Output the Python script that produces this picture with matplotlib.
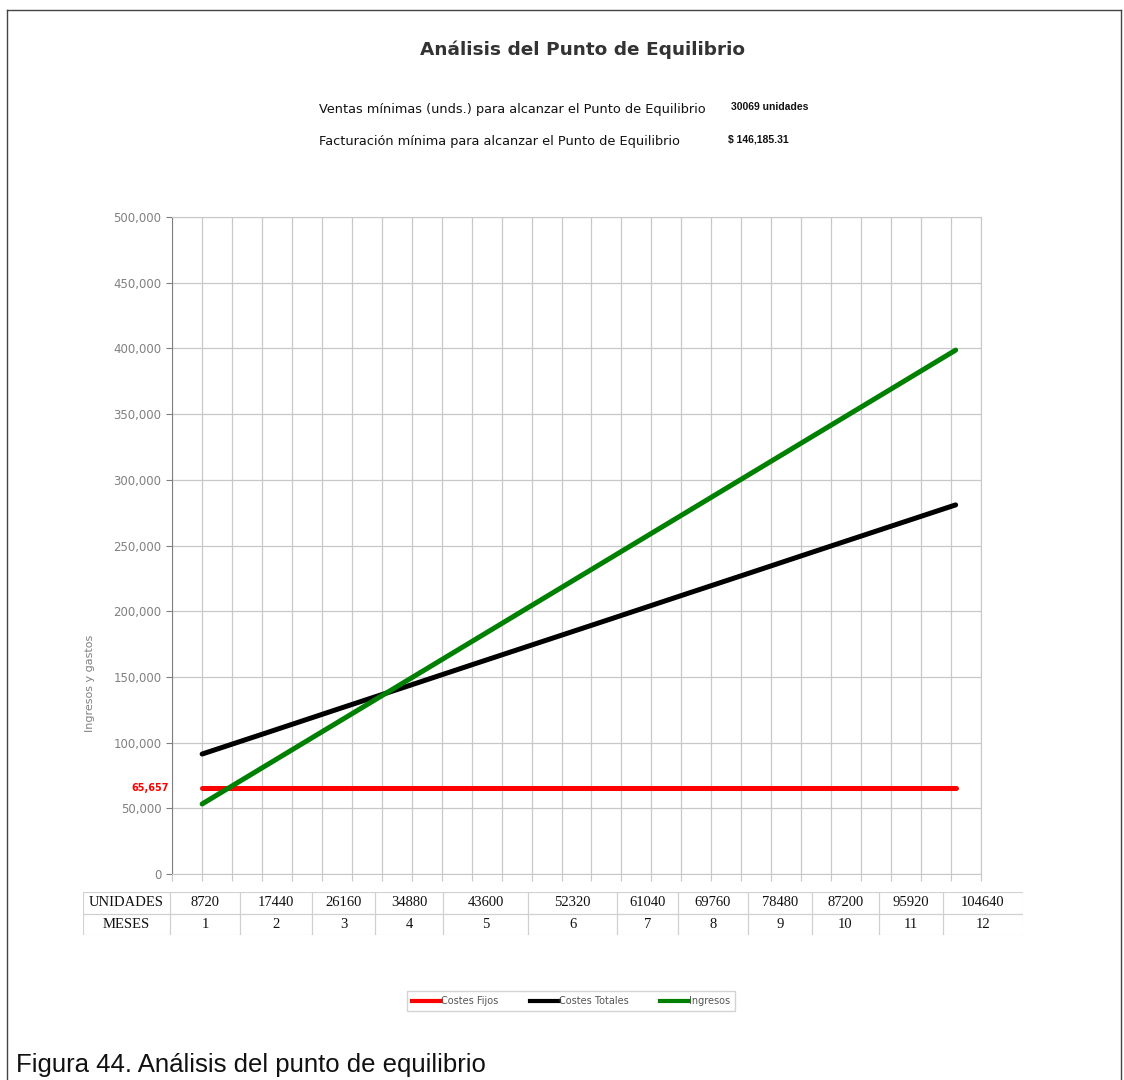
import numpy as np
import matplotlib
matplotlib.use("Agg")
import matplotlib.pyplot as plt
from matplotlib.lines import Line2D
from matplotlib.patches import Rectangle

# chart data
MESES = [1, 2, 3, 4, 5, 6, 7, 8, 9, 10, 11, 12]
UNIDADES = [8720, 17440, 26160, 34880, 43600, 52320, 61040, 69760, 78480, 87200, 95920, 104640]
COSTES_FIJOS = [65657] * 12
COSTES_TOTALES = [91300, 108500, 125800, 143000, 160300, 177500, 194700, 212000, 229200, 246500, 263700, 280900]
INGRESOS = [53300, 84700, 116100, 147500, 178900, 210300, 241700, 273100, 304500, 335900, 367300, 398700]
VENTAS_MIN = "30069 unidades"
FACTURACION_MIN = "$ 146,185.31"

W, H = 1124, 1080
fig = plt.figure(figsize=(W / 100, H / 100), dpi=100)

def fx(px): return px / W
def fy(py): return 1 - py / H

GRID = "#c8c8c8"
GRAY = "#808080"

# outer frame
fig.add_artist(Line2D([fx(7), fx(7)], [0, fy(10)], color="#444444", lw=1))
fig.add_artist(Line2D([fx(7), fx(1121)], [fy(10), fy(10)], color="#444444", lw=1))
fig.add_artist(Line2D([fx(1121), fx(1121)], [fy(10), 0], color="#444444", lw=1))

fig.text(fx(583), fy(50), "Análisis del Punto de Equilibrio", ha="center", va="center",
         fontsize=13.3, fontweight="bold", color="#333333", family="DejaVu Sans")
fig.text(fx(319), fy(110), "Ventas mínimas (unds.) para alcanzar el Punto de Equilibrio",
         ha="left", va="center", fontsize=9.3, color="#111111", family="DejaVu Sans")
fig.text(fx(731), fy(107), VENTAS_MIN, ha="left", va="center", fontsize=7.5,
         fontweight="bold", color="#111111", family="Liberation Sans")
fig.text(fx(319), fy(141), "Facturación mínima para alcanzar el Punto de Equilibrio",
         ha="left", va="center", fontsize=9.3, color="#111111", family="DejaVu Sans")
fig.text(fx(728), fy(139), FACTURACION_MIN, ha="left", va="center", fontsize=7.5,
         fontweight="bold", color="#111111", family="Liberation Sans")

# main chart
ax = fig.add_axes([fx(172), fy(874), fx(981) - fx(172), fy(217) - fy(874)])
x0, x1 = 0.56, 12.37
ax.set_xlim(x0, x1)
ax.set_ylim(0, 500000)
ax.set_xticks(np.linspace(x0, x1, 28))
ax.set_xticklabels([])
ax.set_yticks(np.arange(0, 500001, 50000))
ax.set_yticklabels([f"{v:,}" for v in range(0, 500001, 50000)])
ax.tick_params(axis="y", colors=GRAY, labelsize=8.5, length=4, width=0.8, labelcolor=GRAY)
ax.tick_params(axis="x", colors=GRID, length=5, width=0.8)
ax.grid(True, color=GRID, lw=0.9)
ax.set_axisbelow(True)
for side in ["top", "right", "bottom"]:
    ax.spines[side].set_color(GRID)
ax.spines["left"].set_color(GRAY)
ax.set_ylabel("Ingresos y gastos", color=GRAY, fontsize=8)
ax.yaxis.set_label_coords(-0.095, 0.29)

ax.plot(MESES, COSTES_FIJOS, color="#ff0000", lw=3.6, solid_capstyle="round", label="Costes Fijos")
ax.plot(MESES, COSTES_TOTALES, color="black", lw=3.6, solid_capstyle="round", label="Costes Totales")
ax.plot(MESES, INGRESOS, color="#008000", lw=3.6, solid_capstyle="round", label="Ingresos")

ax.annotate(f"{COSTES_FIJOS[0]:,}", xy=(0, COSTES_FIJOS[0]), xycoords=("axes fraction", "data"),
            xytext=(-2, 0), textcoords="offset points", ha="right", va="center",
            color="#ff0000", fontsize=7, fontweight="bold", family="DejaVu Sans")

# units / months table
col_edges = [83, 170, 240, 312, 375, 443, 528, 617, 678, 748, 812, 879, 943, 1023]
tab = fig.add_axes([fx(83), fy(935), fx(1023) - fx(83), fy(892) - fy(935)])
tab.set_xlim(83, 1023)
tab.set_ylim(0, 2)
tab.axis("off")
rows = [("UNIDADES", UNIDADES), ("MESES", MESES)]
for r, (name, vals) in enumerate(rows):
    yb = 1 - r
    cells = [name] + [str(v) for v in vals]
    for c, txt in enumerate(cells):
        l, rgt = col_edges[c], col_edges[c + 1]
        tab.add_patch(Rectangle((l, yb), rgt - l, 1, fill=False, ec="#d0d0d0", lw=0.8))
        tab.text((l + rgt) / 2, yb + 0.5, txt, ha="center", va="center",
                 fontsize=10.5, family="Liberation Serif", color="#111111")

# legend
handles = [Line2D([], [], color="#ff0000", lw=3),
           Line2D([], [], color="black", lw=3),
           Line2D([], [], color="#008000", lw=3)]
leg = fig.legend(handles, ["Costes Fijos", "Costes Totales", "Ingresos"], ncol=3,
                 loc="center", bbox_to_anchor=(fx(571), fy(1001)), fontsize=7,
                 frameon=True, fancybox=False, edgecolor="#c8c8c8", handlelength=3,
                 handletextpad=0.0, columnspacing=3.2, borderpad=0.5)
for t in leg.get_texts():
    t.set_color("#555555")

fig.text(fx(16), fy(1053), "Figura 44. Análisis del punto de equilibrio", ha="left", va="top",
         fontsize=18.5, color="#111111", family="Liberation Sans")

fig.savefig("out.png", dpi=100)
